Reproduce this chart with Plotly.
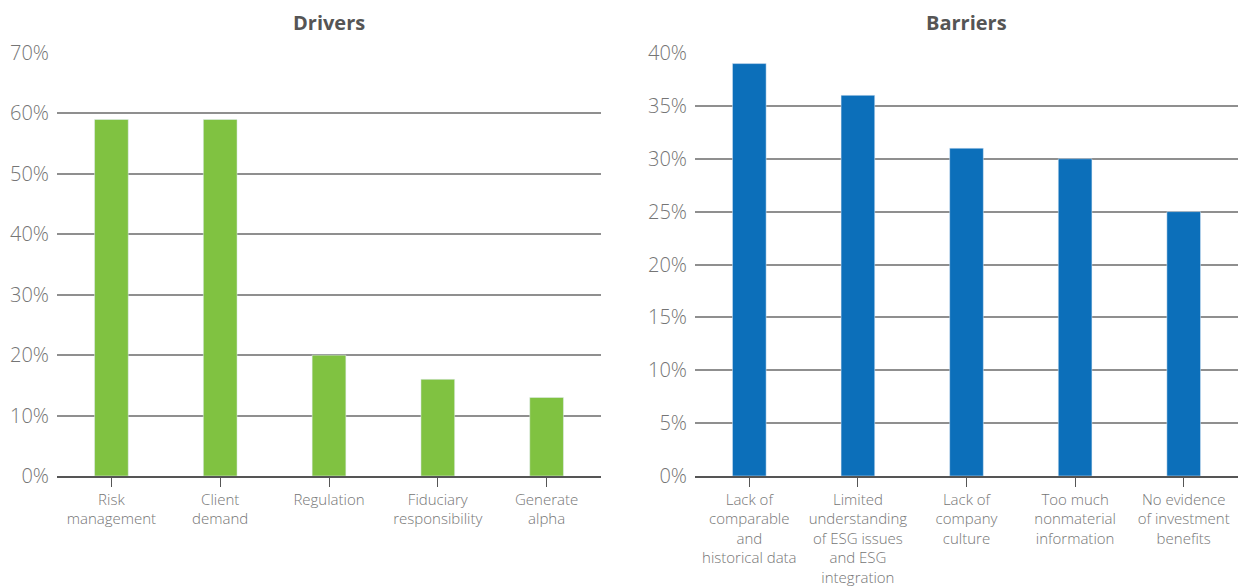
import plotly.graph_objects as go

# Survey results: share of respondents citing each factor
driver_labels = ["Risk<br>management", "Client<br>demand", "Regulation",
                 "Fiduciary<br>responsibility", "Generate<br>alpha"]
driver_values = [59, 59, 20, 16, 13]

barrier_labels = ["Lack of<br>comparable<br>and<br>historical data",
                  "Limited<br>understanding<br>of ESG issues<br>and ESG<br>integration",
                  "Lack of<br>company<br>culture",
                  "Too much<br>nonmaterial<br>information",
                  "No evidence<br>of investment<br>benefits"]
barrier_values = [39, 36, 31, 30, 25]

drivers_ticks = [0, 10, 20, 30, 40, 50, 60, 70]
barriers_ticks = [0, 5, 10, 15, 20, 25, 30, 35, 40]

W, H = 1238, 587
FONT = "Open Sans"
GREEN = "#80c241"
BLUE = "#0c6fba"
GRID = "#8f8f8f"
AXIS = "#555555"
TEXT = "#757575"

fig = go.Figure()
fig.add_trace(go.Bar(x=list(range(5)), y=driver_values, marker_color=GREEN,
                     width=0.31, xaxis="x", yaxis="y", showlegend=False))
fig.add_trace(go.Bar(x=list(range(5)), y=barrier_values, marker_color=BLUE,
                     width=0.31, xaxis="x2", yaxis="y2", showlegend=False))

y0 = (H - 476) / H
y1 = (H - 53) / H

common_x = dict(tickmode="array", tickvals=list(range(5)), ticks="outside",
                ticklen=9, tickcolor=AXIS, tickwidth=1, showgrid=False,
                zeroline=False, showline=True, linecolor=AXIS, linewidth=1.5,
                automargin=False, range=[-0.5, 4.5],
                tickfont=dict(family=FONT, size=15, color=TEXT, weight=300))
common_y = dict(showgrid=True, gridcolor=GRID, gridwidth=1.5, zeroline=False,
                showline=False, ticks="", automargin=False, tickmode="array",
                ticklabelstandoff=7,
                tickfont=dict(family=FONT, size=20, color=TEXT, weight=300))

fig.update_layout(
    width=W, height=H,
    margin=dict(l=0, r=0, t=0, b=0, autoexpand=False),
    plot_bgcolor="white", paper_bgcolor="white",
    xaxis=dict(domain=[57 / W, 601 / W], ticktext=driver_labels,
               anchor="y", **common_x),
    yaxis=dict(domain=[y0, y1], range=[0, 70], tickvals=drivers_ticks,
               ticktext=[f"{v}%" for v in drivers_ticks],
               anchor="x", **common_y),
    xaxis2=dict(domain=[695 / W, 1.0], ticktext=barrier_labels,
                anchor="y2", **common_x),
    yaxis2=dict(domain=[y0, y1], range=[0, 40], tickvals=barriers_ticks,
                ticktext=[f"{v}%" for v in barriers_ticks],
                anchor="x2", **common_y),
    annotations=[
        dict(text="<b>Drivers</b>", x=(57 + 601) / 2 / W, y=1 - 22 / H,
             xref="paper", yref="paper", showarrow=False,
             xanchor="center", yanchor="middle",
             font=dict(family=FONT, size=20, color="#555555")),
        dict(text="<b>Barriers</b>", x=(695 + 1238) / 2 / W, y=1 - 22 / H,
             xref="paper", yref="paper", showarrow=False,
             xanchor="center", yanchor="middle",
             font=dict(family=FONT, size=20, color="#555555")),
    ],
)

fig.write_html("out.html")
